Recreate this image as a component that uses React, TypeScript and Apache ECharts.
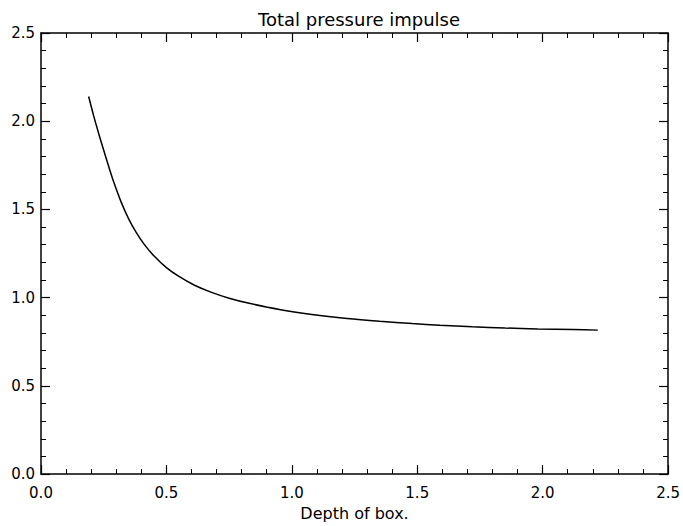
import React, { useEffect, useRef } from "react";
import * as echarts from "echarts";

const depth = [0.19, 0.21, 0.23, 0.25, 0.27, 0.29, 0.32, 0.35, 0.38, 0.41, 0.45, 0.5, 0.55, 0.61, 0.68, 0.75, 0.83, 0.95, 1.08, 1.22, 1.35, 1.48, 1.59, 1.72, 1.85, 1.98, 2.12, 2.22];
const impulse = [2.14, 2.03, 1.93, 1.835, 1.743, 1.655, 1.54, 1.445, 1.368, 1.305, 1.237, 1.17, 1.12, 1.072, 1.03, 0.997, 0.968, 0.933, 0.905, 0.882, 0.866, 0.853, 0.844, 0.835, 0.828, 0.823, 0.819, 0.816];

const titleText = "Total pressure impulse";
const xName = "Depth of box.";

export default function App() {
  const ref = useRef<HTMLDivElement>(null);
  useEffect(() => {
    if (!ref.current) return;
    const chart = echarts.init(ref.current, null, { renderer: "svg" });
    const font = "DejaVu Sans";
    const axisCommon = {
      type: "value" as const,
      min: 0,
      max: 2.5,
      interval: 0.5,
      axisLine: { show: true, onZero: false, lineStyle: { color: "#000", width: 1.5 } },
      axisTick: { show: true, inside: true, length: 9, lineStyle: { color: "#000", width: 1.2 } },
      minorTick: { show: true, splitNumber: 5, length: 5, lineStyle: { color: "#000", width: 1 } },
      splitLine: { show: false },
    };
    chart.setOption({
      animation: false,
      backgroundColor: "#fff",
      title: {
        text: titleText,
        left: 354,
        top: 5,
        textAlign: "center",
        textStyle: { fontFamily: font, fontSize: 18, fontWeight: "normal", color: "#000" },
      },
      grid: { left: 41, right: 13, top: 33, bottom: 47 },
      xAxis: [
        {
          ...axisCommon,
          position: "bottom",
          name: xName,
          nameLocation: "middle",
          nameGap: 29,
          nameTextStyle: { fontFamily: font, fontSize: 16, color: "#000" },
          axisLabel: {
            fontFamily: font,
            fontSize: 15,
            color: "#000",
            margin: 11,
            formatter: (v: number) => v.toFixed(1),
          },
        },
        {
          ...axisCommon,
          position: "top",
          axisLabel: { show: false },
        },
      ],
      yAxis: [
        {
          ...axisCommon,
          position: "left",
          axisLabel: {
            fontFamily: font,
            fontSize: 15,
            color: "#000",
            margin: 6,
            formatter: (v: number) => v.toFixed(1),
          },
        },
        {
          ...axisCommon,
          position: "right",
          axisLabel: { show: false },
        },
      ],
      series: [
        {
          type: "line",
          data: depth.map((d, i) => [d, impulse[i]]),
          smooth: 0.25,
          showSymbol: false,
          lineStyle: { color: "#000", width: 1.5 },
        },
      ],
    });
    return () => chart.dispose();
  }, []);
  return <div ref={ref} style={{ width: 683, height: 526, position: "absolute", left: 0, top: 0 }} />;
}
